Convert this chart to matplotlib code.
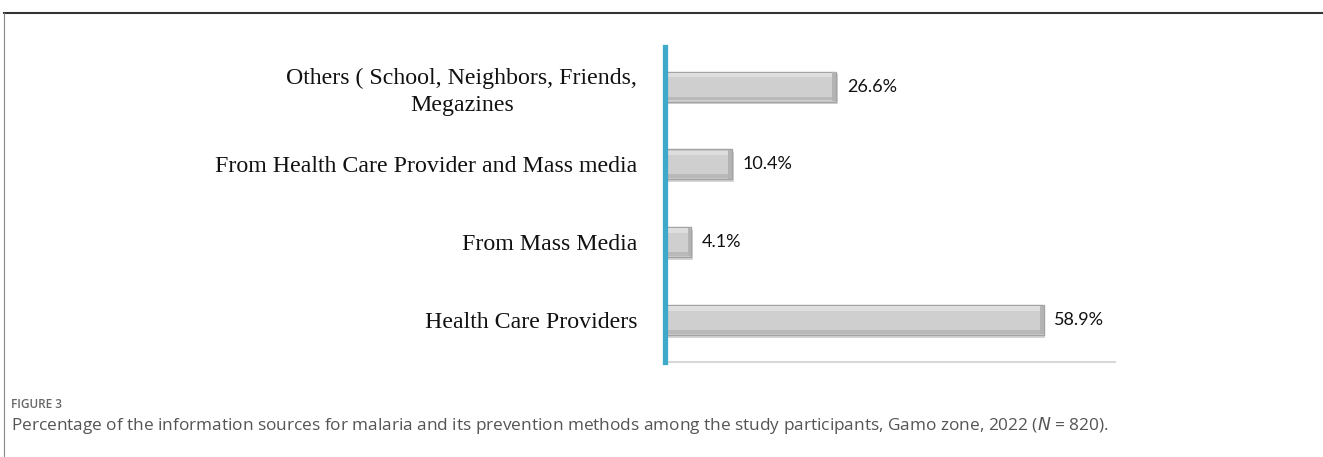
import matplotlib
matplotlib.use("Agg")
import matplotlib.pyplot as plt
from matplotlib.lines import Line2D

categories = ["Health Care Providers", "From Mass Media",
              "From Health Care Provider and Mass media",
              "Others ( School, Neighbors, Friends,\nMegazines"]
values = [58.9, 4.1, 10.4, 26.6]
value_labels = ["58.9%", "4.1%", "10.4%", "26.6%"]

fig = plt.figure(figsize=(13.23, 4.57), dpi=100)
ax = fig.add_axes([0.5026, 0.2079, 0.3401, 0.6893])

ypos = list(range(len(categories)))
H = 0.386
# soft shadow
ax.barh([y - 0.035 for y in ypos], [v + 0.1 for v in values], height=H,
        left=0.2, color="#c4c4c4", edgecolor="none", zorder=1, alpha=0.7)
ax.barh(ypos, values, height=H, color="#cfcfcf", edgecolor="#a3a3a3",
        linewidth=1.0, zorder=2)
# bevel: top highlight, bottom shade, right-end shade
ax.barh([y + H / 2 - 0.045 for y in ypos], values, height=0.06,
        color="#dedede", edgecolor="none", zorder=3)
ax.barh([y - H / 2 + 0.04 for y in ypos], values, height=0.05,
        color="#b9b9b9", edgecolor="none", zorder=3)
ax.barh(ypos, [0.55] * len(values), left=[v - 0.55 for v in values],
        height=H * 0.95, color="#b3b3b3", edgecolor="none", zorder=3)

for y, v, lab in zip(ypos, values, value_labels):
    ax.text(v + 1.7, y, lab, va="center", ha="left", fontsize=13,
            family="Lato", color="#111111")

ax.set_xlim(0, 70)
ax.set_ylim(-0.54, 3.51)
ax.set_yticks(ypos)
ax.set_yticklabels(categories, family="Liberation Serif", fontsize=17.2,
                   color="#111111", multialignment="center", linespacing=1.35)
ax.tick_params(axis="y", length=0, pad=20)
ax.set_xticks([])
for s in ["top", "right"]:
    ax.spines[s].set_visible(False)
ax.spines["left"].set_color("#3ea9c8")
ax.spines["left"].set_linewidth(3.8)
ax.spines["left"].set_zorder(5)
ax.spines["bottom"].set_color("#d8d8d8")
ax.spines["bottom"].set_linewidth(1.5)

# outer frame
fig.add_artist(Line2D([4/1323, 1.0], [1 - 13/457, 1 - 13/457],
                      transform=fig.transFigure, color="#333333", lw=1.5))
fig.add_artist(Line2D([4/1323, 4/1323], [0.0, 1 - 13/457],
                      transform=fig.transFigure, color="#888888", lw=0.8))

fig.text(11/1323, 1 - 404/457, "FIGURE 3", fontsize=8.5, family="Open Sans",
         weight="semibold", color="#666666", va="center", ha="left")
fig.text(11/1323, 1 - 425/457,
         "Percentage of the information sources for malaria and its prevention methods among the study participants, Gamo zone, 2022 ($\\mathit{N}$ = 820).",
         fontsize=12.4, family="Open Sans", color="#555555", va="center", ha="left")

fig.savefig("out.png", dpi=100)
